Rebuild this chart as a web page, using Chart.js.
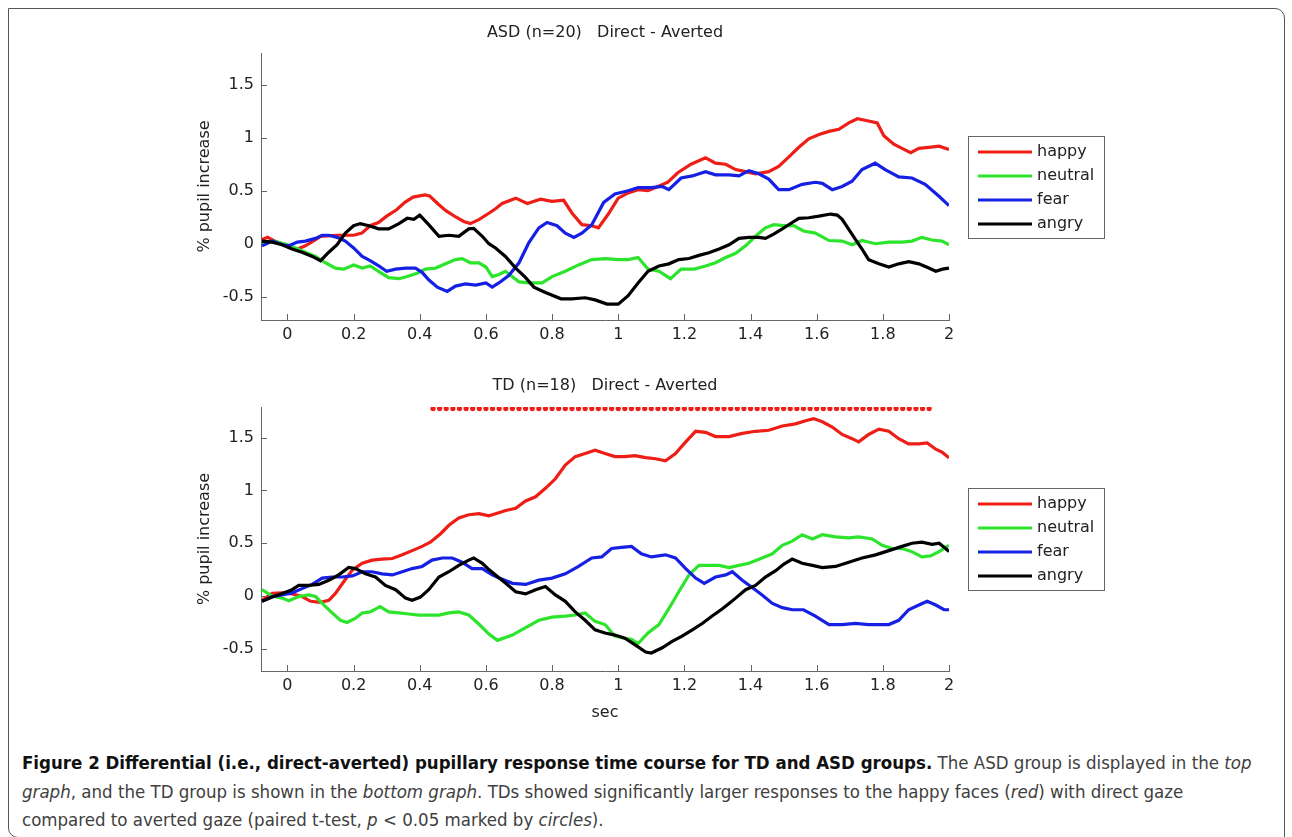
<!DOCTYPE html>
<html>
<head>
<meta charset="utf-8">
<script src="https://cdn.jsdelivr.net/npm/chart.js@4.4.0/dist/chart.umd.min.js"></script>
<style>
  body { margin: 0; background: #fff; width: 1292px; height: 837px; overflow: hidden; position: relative; }
  .frame { position: absolute; left: 8px; top: 8px; width: 1277px; height: 830px; border: 1px solid #555;
           border-radius: 0 10px 0 10px; box-sizing: border-box; }
  .plot { position: absolute; left: 175px; }
  #topPlot { top: 15px; }
  #botPlot { top: 368px; }
  .cap { position: absolute; left: 22px; top: 749px; font-family: "Liberation Sans Narrow", "DejaVu Sans Condensed", sans-serif;
         font-size: 18.5px; line-height: 28.5px; color: #404040; white-space: nowrap; }
  .cap b { color: #111; }
</style>
</head>
<body>
<div class="frame"></div>
<canvas id="topPlot" class="plot" width="940" height="340"></canvas>
<canvas id="botPlot" class="plot" width="940" height="360"></canvas>
<div class="cap"><b>Figure 2 Differential (i.e., direct-averted) pupillary response time course for TD and ASD groups.</b> The ASD group is displayed in the <i>top</i><br><i>graph</i>, and the TD group is shown in the <i>bottom graph</i>. TDs showed significantly larger responses to the happy faces (<i>red</i>) with direct gaze<br>compared to averted gaze (paired t-test, <i>p</i>&nbsp;&lt;&nbsp;0.05 marked by <i>circles</i>).</div>

<script>
// [time (sec), % pupil increase]
const asdHappy = [[-0.077,0.04],[-0.06,0.06],[-0.035,0.02],[-0.01,-0.01],[0.01,-0.04],[0.03,-0.05],[0.054,-0.02],[0.08,0.03],[0.1,0.07],[0.15,0.08],[0.2,0.08],[0.225,0.1],[0.25,0.17],[0.275,0.2],[0.3,0.26],[0.33,0.32],[0.355,0.39],[0.38,0.44],[0.415,0.46],[0.43,0.45],[0.457,0.37],[0.48,0.31],[0.51,0.25],[0.533,0.21],[0.553,0.19],[0.58,0.23],[0.61,0.29],[0.629,0.33],[0.649,0.38],[0.69,0.43],[0.725,0.38],[0.765,0.42],[0.8,0.4],[0.835,0.41],[0.86,0.29],[0.89,0.18],[0.92,0.17],[0.94,0.15],[0.97,0.28],[1.0,0.43],[1.03,0.48],[1.06,0.51],[1.09,0.5],[1.12,0.54],[1.15,0.58],[1.18,0.67],[1.22,0.75],[1.264,0.81],[1.294,0.76],[1.325,0.75],[1.355,0.7],[1.385,0.68],[1.415,0.66],[1.455,0.68],[1.485,0.73],[1.516,0.82],[1.546,0.91],[1.576,0.99],[1.607,1.03],[1.637,1.06],[1.667,1.08],[1.697,1.14],[1.723,1.18],[1.753,1.16],[1.783,1.14],[1.803,1.02],[1.833,0.94],[1.858,0.9],[1.884,0.86],[1.909,0.9],[1.939,0.91],[1.97,0.92],[2.0,0.89]];
const asdNeutral = [[-0.077,0.01],[-0.04,0.025],[0.0,-0.01],[0.024,-0.04],[0.054,-0.08],[0.085,-0.12],[0.115,-0.18],[0.145,-0.23],[0.17,-0.24],[0.2,-0.2],[0.226,-0.23],[0.25,-0.21],[0.28,-0.27],[0.306,-0.32],[0.337,-0.33],[0.362,-0.31],[0.392,-0.28],[0.417,-0.24],[0.448,-0.23],[0.478,-0.19],[0.508,-0.15],[0.528,-0.14],[0.553,-0.18],[0.579,-0.18],[0.6,-0.22],[0.619,-0.31],[0.639,-0.29],[0.659,-0.26],[0.679,-0.31],[0.7,-0.36],[0.73,-0.37],[0.77,-0.37],[0.8,-0.31],[0.84,-0.26],[0.88,-0.2],[0.92,-0.15],[0.961,-0.14],[1.0,-0.15],[1.03,-0.15],[1.06,-0.13],[1.09,-0.24],[1.123,-0.26],[1.158,-0.33],[1.19,-0.24],[1.23,-0.24],[1.264,-0.21],[1.294,-0.18],[1.325,-0.13],[1.355,-0.09],[1.385,-0.02],[1.415,0.07],[1.445,0.15],[1.47,0.18],[1.5,0.17],[1.53,0.17],[1.56,0.12],[1.596,0.1],[1.637,0.03],[1.677,0.025],[1.707,-0.01],[1.737,0.03],[1.777,0.0],[1.818,0.015],[1.858,0.015],[1.888,0.025],[1.918,0.06],[1.948,0.035],[1.979,0.025],[2.0,-0.01]];
const asdFear = [[-0.077,-0.02],[-0.046,0.025],[-0.016,-0.01],[0.004,-0.02],[0.03,0.015],[0.054,0.025],[0.085,0.05],[0.105,0.08],[0.125,0.08],[0.15,0.06],[0.175,0.025],[0.2,-0.04],[0.226,-0.12],[0.25,-0.16],[0.276,-0.21],[0.3,-0.26],[0.327,-0.24],[0.357,-0.23],[0.387,-0.23],[0.407,-0.27],[0.427,-0.34],[0.453,-0.41],[0.483,-0.45],[0.508,-0.4],[0.538,-0.38],[0.569,-0.39],[0.6,-0.37],[0.619,-0.41],[0.639,-0.37],[0.669,-0.3],[0.7,-0.18],[0.73,0.01],[0.76,0.15],[0.785,0.2],[0.815,0.17],[0.84,0.1],[0.866,0.06],[0.89,0.1],[0.92,0.18],[0.956,0.39],[0.99,0.47],[1.03,0.5],[1.06,0.53],[1.1,0.53],[1.133,0.54],[1.153,0.51],[1.19,0.62],[1.224,0.64],[1.264,0.68],[1.294,0.65],[1.335,0.65],[1.365,0.64],[1.395,0.69],[1.425,0.66],[1.455,0.61],[1.485,0.51],[1.516,0.51],[1.556,0.56],[1.596,0.58],[1.617,0.57],[1.647,0.51],[1.677,0.54],[1.707,0.59],[1.737,0.7],[1.777,0.76],[1.807,0.7],[1.848,0.63],[1.888,0.62],[1.928,0.56],[1.969,0.45],[2.0,0.36]];
const asdAngry = [[-0.077,0.025],[-0.046,0.015],[-0.016,-0.01],[0.014,-0.05],[0.044,-0.08],[0.075,-0.12],[0.1,-0.16],[0.125,-0.08],[0.15,-0.01],[0.175,0.1],[0.2,0.17],[0.22,0.19],[0.246,0.17],[0.276,0.14],[0.306,0.14],[0.337,0.19],[0.362,0.24],[0.382,0.23],[0.4,0.27],[0.427,0.18],[0.458,0.07],[0.488,0.08],[0.518,0.07],[0.548,0.14],[0.563,0.145],[0.589,0.07],[0.609,0.0],[0.629,-0.04],[0.659,-0.12],[0.69,-0.23],[0.72,-0.32],[0.745,-0.41],[0.78,-0.46],[0.827,-0.52],[0.86,-0.52],[0.9,-0.51],[0.93,-0.53],[0.966,-0.57],[1.0,-0.57],[1.03,-0.49],[1.06,-0.37],[1.09,-0.26],[1.123,-0.21],[1.153,-0.19],[1.183,-0.15],[1.214,-0.14],[1.244,-0.11],[1.274,-0.085],[1.305,-0.05],[1.335,-0.01],[1.365,0.05],[1.395,0.06],[1.425,0.06],[1.445,0.05],[1.47,0.09],[1.496,0.14],[1.526,0.2],[1.546,0.24],[1.576,0.245],[1.607,0.26],[1.642,0.28],[1.662,0.27],[1.677,0.23],[1.697,0.135],[1.717,0.04],[1.737,-0.05],[1.757,-0.15],[1.788,-0.19],[1.818,-0.22],[1.848,-0.19],[1.878,-0.17],[1.909,-0.19],[1.939,-0.23],[1.96,-0.26],[1.98,-0.24],[2.0,-0.23]];

const tdHappy = [[-0.077,-0.04],[-0.046,0.025],[-0.016,0.03],[0.014,0.02],[0.044,-0.005],[0.07,-0.05],[0.1,-0.06],[0.125,-0.04],[0.145,0.025],[0.17,0.135],[0.196,0.245],[0.226,0.31],[0.256,0.34],[0.286,0.35],[0.317,0.355],[0.347,0.39],[0.377,0.43],[0.407,0.47],[0.432,0.51],[0.463,0.59],[0.488,0.67],[0.518,0.74],[0.548,0.77],[0.579,0.78],[0.609,0.76],[0.629,0.78],[0.66,0.81],[0.69,0.83],[0.72,0.9],[0.75,0.94],[0.78,1.02],[0.81,1.11],[0.84,1.24],[0.87,1.32],[0.9,1.35],[0.93,1.38],[0.96,1.35],[0.99,1.32],[1.02,1.32],[1.05,1.33],[1.083,1.31],[1.113,1.3],[1.143,1.28],[1.173,1.35],[1.204,1.46],[1.234,1.56],[1.264,1.55],[1.294,1.51],[1.335,1.51],[1.375,1.54],[1.415,1.56],[1.455,1.57],[1.496,1.61],[1.536,1.63],[1.566,1.66],[1.591,1.68],[1.617,1.65],[1.647,1.6],[1.677,1.53],[1.707,1.49],[1.727,1.46],[1.757,1.53],[1.788,1.58],[1.818,1.56],[1.848,1.49],[1.878,1.44],[1.909,1.44],[1.934,1.45],[1.96,1.39],[1.98,1.36],[2.0,1.31]];
const tdNeutral = [[-0.077,0.06],[-0.046,0.0],[-0.016,-0.02],[0.004,-0.045],[0.034,-0.005],[0.064,0.01],[0.085,-0.005],[0.105,-0.07],[0.135,-0.16],[0.16,-0.23],[0.18,-0.25],[0.206,-0.21],[0.226,-0.16],[0.25,-0.15],[0.28,-0.1],[0.306,-0.15],[0.337,-0.16],[0.367,-0.17],[0.397,-0.18],[0.427,-0.18],[0.458,-0.18],[0.488,-0.16],[0.518,-0.15],[0.548,-0.18],[0.58,-0.27],[0.609,-0.36],[0.635,-0.42],[0.68,-0.37],[0.72,-0.3],[0.76,-0.23],[0.8,-0.2],[0.84,-0.19],[0.87,-0.18],[0.9,-0.16],[0.93,-0.24],[0.96,-0.27],[0.99,-0.38],[1.02,-0.4],[1.04,-0.41],[1.06,-0.45],[1.09,-0.35],[1.123,-0.27],[1.153,-0.12],[1.183,0.04],[1.214,0.2],[1.244,0.29],[1.274,0.29],[1.305,0.29],[1.335,0.27],[1.365,0.29],[1.395,0.31],[1.435,0.36],[1.466,0.4],[1.496,0.48],[1.526,0.52],[1.556,0.58],[1.587,0.54],[1.617,0.58],[1.657,0.56],[1.697,0.55],[1.727,0.56],[1.768,0.54],[1.798,0.48],[1.828,0.45],[1.858,0.45],[1.888,0.42],[1.918,0.37],[1.944,0.38],[1.97,0.42],[2.0,0.48]];
const tdFear = [[-0.077,-0.05],[-0.046,-0.006],[-0.016,0.01],[0.014,0.03],[0.044,0.07],[0.075,0.11],[0.105,0.17],[0.135,0.18],[0.165,0.18],[0.196,0.19],[0.226,0.23],[0.256,0.23],[0.286,0.21],[0.317,0.2],[0.347,0.23],[0.377,0.26],[0.407,0.28],[0.437,0.34],[0.468,0.36],[0.498,0.36],[0.528,0.32],[0.558,0.26],[0.589,0.26],[0.619,0.2],[0.64,0.17],[0.68,0.12],[0.72,0.11],[0.76,0.15],[0.8,0.17],[0.84,0.21],[0.88,0.28],[0.92,0.36],[0.95,0.37],[0.98,0.45],[1.01,0.46],[1.04,0.47],[1.07,0.4],[1.1,0.37],[1.143,0.39],[1.173,0.36],[1.204,0.26],[1.234,0.17],[1.26,0.12],[1.294,0.18],[1.325,0.2],[1.345,0.23],[1.375,0.15],[1.405,0.08],[1.435,0.01],[1.466,-0.07],[1.496,-0.11],[1.526,-0.13],[1.56,-0.13],[1.596,-0.19],[1.637,-0.27],[1.677,-0.27],[1.717,-0.26],[1.757,-0.27],[1.788,-0.27],[1.818,-0.27],[1.848,-0.23],[1.878,-0.13],[1.909,-0.085],[1.934,-0.05],[1.96,-0.085],[1.985,-0.13],[2.0,-0.13]];
const tdAngry = [[-0.077,-0.05],[-0.046,-0.01],[-0.016,0.025],[0.014,0.06],[0.034,0.1],[0.064,0.1],[0.095,0.11],[0.125,0.15],[0.155,0.2],[0.185,0.27],[0.206,0.26],[0.236,0.21],[0.266,0.18],[0.296,0.1],[0.327,0.06],[0.357,-0.02],[0.377,-0.04],[0.402,-0.01],[0.427,0.06],[0.458,0.18],[0.488,0.23],[0.518,0.29],[0.548,0.34],[0.563,0.36],[0.589,0.31],[0.609,0.25],[0.629,0.2],[0.66,0.12],[0.69,0.04],[0.72,0.02],[0.75,0.06],[0.78,0.09],[0.81,0.01],[0.84,-0.05],[0.87,-0.15],[0.9,-0.23],[0.93,-0.32],[0.96,-0.35],[0.99,-0.37],[1.02,-0.4],[1.05,-0.46],[1.083,-0.53],[1.1,-0.54],[1.133,-0.49],[1.163,-0.43],[1.193,-0.38],[1.224,-0.32],[1.254,-0.26],[1.284,-0.19],[1.315,-0.12],[1.335,-0.07],[1.355,-0.02],[1.385,0.06],[1.415,0.1],[1.445,0.18],[1.476,0.24],[1.5,0.3],[1.526,0.35],[1.556,0.31],[1.587,0.29],[1.617,0.27],[1.657,0.28],[1.697,0.32],[1.737,0.36],[1.778,0.39],[1.818,0.43],[1.858,0.47],[1.888,0.5],[1.918,0.51],[1.949,0.49],[1.97,0.5],[1.99,0.45],[2.0,0.42]];

// time points where TD happy was significant (p < 0.05), drawn as circles
const sigTimes = [0.44,0.46,0.48,0.50,0.52,0.54,0.56,0.58,0.60,0.62,0.64,0.66,0.68,0.70,0.72,0.74,0.76,0.78,0.80,0.82,0.84,0.86,0.88,0.90,0.92,0.94,0.96,0.98,1.00,1.02,1.04,1.06,1.08,1.10,1.12,1.14,1.16,1.18,1.20,1.22,1.24,1.26,1.28,1.30,1.32,1.34,1.36,1.38,1.40,1.42,1.44,1.46,1.48,1.50,1.52,1.54,1.56,1.58,1.60,1.62,1.64,1.66,1.68,1.70,1.72,1.74,1.76,1.78,1.80,1.82,1.84,1.86,1.88,1.90,1.92,1.94];
const sigLevel = 1.775;

const conditions = ["happy", "neutral", "fear", "angry"];
const colors = ["rgb(238,30,22)", "rgb(45,228,45)", "rgb(22,32,228)", "#000"];
const xTicks = [0, 0.2, 0.4, 0.6, 0.8, 1, 1.2, 1.4, 1.6, 1.8, 2];
const yTicks = [-0.5, 0, 0.5, 1, 1.5];

const FONT = '"DejaVu Sans", "Liberation Sans", sans-serif';
Chart.defaults.font.family = FONT;
Chart.defaults.font.size = 16;
Chart.defaults.color = "#222";

// matlab style ticks, pointing into the plot
const inwardTicks = {
  id: "inwardTicks",
  beforeDatasetsDraw(chart) {
    const { ctx, chartArea: a, scales: { x, y } } = chart;
    ctx.save();
    ctx.strokeStyle = "#666";
    ctx.lineWidth = 1;
    ctx.beginPath();
    x.ticks.forEach((t) => {
      const px = Math.round(x.getPixelForValue(t.value)) + 0.5;
      ctx.moveTo(px, a.bottom);
      ctx.lineTo(px, a.bottom - 6);
    });
    y.ticks.forEach((t) => {
      const py = Math.round(y.getPixelForValue(t.value)) + 0.5;
      ctx.moveTo(a.left, py);
      ctx.lineTo(a.left + 6, py);
    });
    ctx.stroke();
    ctx.restore();
  },
};

// legend in a box to the right of the axes
const boxLegend = {
  id: "boxLegend",
  afterDraw(chart) {
    const items = chart.data.datasets.filter((d) => d.inLegend);
    const { ctx, chartArea: a } = chart;
    const w = 136, h = 102, rowH = 24;
    const left = Math.round(a.right) + 19;
    const top = Math.round((a.top + a.bottom) / 2 - h / 2);
    ctx.save();
    ctx.fillStyle = "#fff";
    ctx.fillRect(left, top, w, h);
    ctx.strokeStyle = "#666";
    ctx.lineWidth = 1;
    ctx.strokeRect(left + 0.5, top + 0.5, w, h);
    ctx.font = "16px " + FONT;
    ctx.textBaseline = "middle";
    items.forEach((d, i) => {
      const cy = top + 16 + i * rowH;
      ctx.strokeStyle = d.borderColor;
      ctx.lineWidth = 3;
      ctx.beginPath();
      ctx.moveTo(left + 10, cy);
      ctx.lineTo(left + 64, cy);
      ctx.stroke();
      ctx.fillStyle = "#222";
      ctx.fillText(d.label, left + 69, cy);
    });
    ctx.restore();
  },
};

function makeChart(id, title, series, o) {
  const datasets = series.map((s, i) => ({
    label: conditions[i],
    data: s,
    borderColor: colors[i],
    backgroundColor: colors[i],
    borderWidth: 3.2,
    pointRadius: 0,
    tension: 0,
    inLegend: true,
    order: 4 - i,
  }));
  if (o.sig) {
    datasets.push({
      label: "p<0.05",
      data: sigTimes.map((t) => [t, sigLevel]),
      showLine: false,
      pointRadius: 2.6,
      pointBorderWidth: 0,
      backgroundColor: colors[0],
      borderColor: colors[0],
      order: 0,
    });
  }
  return new Chart(document.getElementById(id), {
    type: "line",
    data: { datasets },
    options: {
      responsive: false,
      animation: false,
      layout: { padding: { left: 0, right: 166, top: 0, bottom: 0 } },
      plugins: {
        legend: { display: false },
        tooltip: { enabled: false },
        title: {
          display: true,
          text: title,
          fullSize: false,
          font: { size: 16, weight: "normal" },
          padding: { top: 8.4, bottom: o.titleGap },
        },
      },
      scales: {
        x: {
          type: "linear",
          min: -0.08,
          max: 2,
          grid: { display: true, drawOnChartArea: false, drawTicks: false },
          border: { display: true, color: "#666", width: 1 },
          afterBuildTicks: (s) => { s.ticks = xTicks.map((v) => ({ value: v })); },
          ticks: { padding: 5.4, callback: (v) => String(+v.toFixed(2)) },
          title: { display: o.xTitle, text: "sec", font: { size: 16 }, padding: { top: 0, bottom: 5.4 } },
          afterFit: (s) => { s.height = o.xHeight; s.paddingLeft = 0; s.paddingRight = 0; },
        },
        y: {
          min: o.yMin,
          max: o.yMax,
          grid: { display: true, drawOnChartArea: false, drawTicks: false },
          border: { display: true, color: "#666", width: 1 },
          afterBuildTicks: (s) => { s.ticks = yTicks.map((v) => ({ value: v })); },
          ticks: { padding: 7, callback: (v) => String(v) },
          title: { display: true, text: "% pupil increase", font: { size: 16 }, padding: { top: 20.4, bottom: 0 } },
          afterFit: (s) => { s.width = 86; s.paddingTop = 0; s.paddingBottom = 0; },
        },
      },
    },
    plugins: [inwardTicks, boxLegend],
  });
}

makeChart("topPlot", "ASD (n=20)   Direct - Averted", [asdHappy, asdNeutral, asdFear, asdAngry],
  { yMin: -0.72, yMax: 1.8, titleGap: 10.4, xHeight: 35, xTitle: false, sig: false });
makeChart("botPlot", "TD (n=18)   Direct - Averted", [tdHappy, tdNeutral, tdFear, tdAngry],
  { yMin: -0.71, yMax: 1.79, titleGap: 11.4, xHeight: 57, xTitle: true, sig: true });
</script>
</body>
</html>
